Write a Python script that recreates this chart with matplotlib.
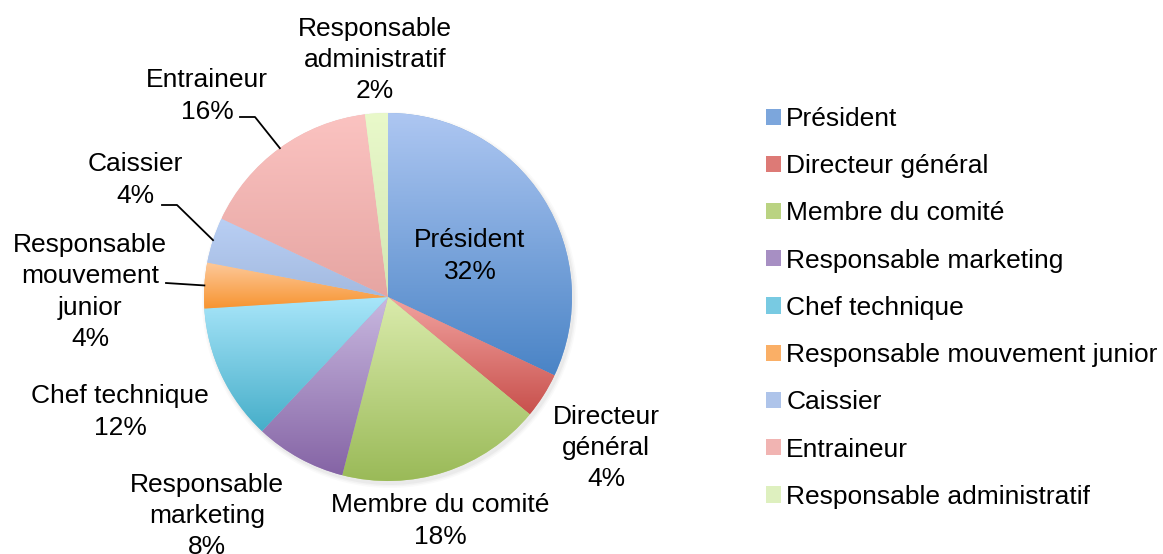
import numpy as np
import matplotlib
matplotlib.use("Agg")
import matplotlib.pyplot as plt
from matplotlib.colors import to_rgb
from matplotlib.patches import Circle

plt.rcParams['font.family'] = ['Liberation Sans', 'DejaVu Sans']

# data
categories = ["Président", "Directeur général", "Membre du comité",
              "Responsable marketing", "Chef technique",
              "Responsable mouvement junior", "Caissier", "Entraineur",
              "Responsable administratif"]
values = [32, 4, 18, 8, 12, 4, 4, 16, 2]
pie_labels = ["Président", "Directeur\ngénéral", "Membre du comité",
              "Responsable\nmarketing", "Chef technique",
              "Responsable\nmouvement\njunior", "Caissier", "Entraineur",
              "Responsable\nadministratif"]

# gradient colours (top -> bottom of each slice)
top_colors = ["#AEC7F2", "#F2A3A0", "#DAEBAC", "#C9B9E0", "#A9E6FA",
              "#FDC99B", "#B9CFF4", "#FBC3C1", "#E9F9CA"]
bottom_colors = ["#4A84C6", "#C8504C", "#9ABA58", "#8564A5", "#46AEC9",
                 "#F79430", "#A3BAE0", "#E6A5A2", "#D3E6B4"]

W, H = 1163, 554
fig = plt.figure(figsize=(W / 100, H / 100), dpi=100)
ax = fig.add_axes([0, 0, 1, 1])

cx, cy, R = 388, H - 297, 184

# soft shadow, offset to lower right
for k, a in zip([4, 2.5, 1], [0.04, 0.05, 0.07]):
    ax.add_patch(Circle((cx + 2, cy - 3), R + k, color="#808080", alpha=a, lw=0, zorder=0))

mid_colors = [tuple((np.array(to_rgb(a)) + np.array(to_rgb(b))) / 2)
              for a, b in zip(top_colors, bottom_colors)]
wedges, _ = ax.pie(values, center=(cx, cy), radius=R, startangle=90,
                   counterclock=False, colors=mid_colors,
                   wedgeprops=dict(linewidth=0))

g = np.linspace(0, 1, 256)[:, None, None]
for w, c0, c1 in zip(wedges, top_colors, bottom_colors):
    ext = w.get_path().get_extents()
    img = np.array(to_rgb(c0))[None, None, :] * (1 - g) + np.array(to_rgb(c1))[None, None, :] * g
    im = ax.imshow(img, extent=(ext.x0, ext.x1, ext.y0, ext.y1), origin="upper",
                   aspect="auto", interpolation="bilinear", zorder=2)
    im.set_clip_path(w)

# data labels (pixel positions of text centres)
label_xy = [(470, 256), (606, 448), (440, 521), (207, 516), (120, 412),
            (90, 292), (135, 180), (207, 96), (375, 60)]
for lab, v, (x, y) in zip(pie_labels, values, label_xy):
    ax.text(x, H - y, f"{lab}\n{v}%", ha="center", va="center", fontsize=19,
            color="black", linespacing=1.38, zorder=5)

# leader lines
leaders = {7: [(240, 117), (255, 117)], 6: [(162, 205), (177, 205)], 5: [(166, 283)]}
for i, pts in leaders.items():
    w = wedges[i]
    ang = np.deg2rad((w.theta1 + w.theta2) / 2)
    xs = [p[0] for p in pts] + [cx + R * np.cos(ang)]
    ys = [H - p[1] for p in pts] + [cy + R * np.sin(ang)]
    ax.plot(xs, ys, color="black", lw=1.3, zorder=5)

ax.legend(wedges, categories, loc="upper left", bbox_to_anchor=(766 / W, 1 - 107 / H),
          frameon=False, fontsize=19, handlelength=0.57, handleheight=0.57,
          handletextpad=0.2, labelspacing=0.88, borderpad=0, borderaxespad=0)

ax.set_xlim(0, W)
ax.set_ylim(0, H)
ax.set_aspect("equal")
ax.axis("off")
fig.savefig("out.png", dpi=100)
